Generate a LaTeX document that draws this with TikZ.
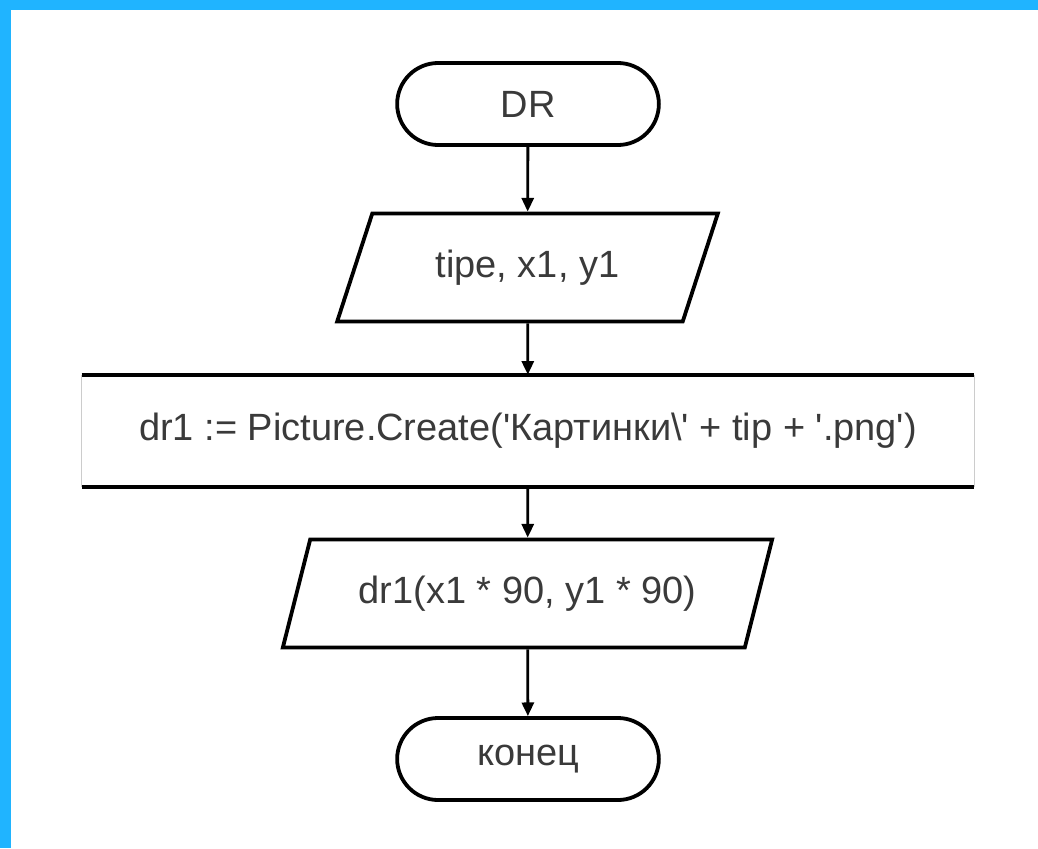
\documentclass[tikz,border=0pt]{standalone}
\usepackage{fontspec}
\setmainfont{Liberation Sans}
\usetikzlibrary{arrows.meta,shapes.geometric,shapes.misc}
\definecolor{frameblue}{RGB}{32,180,255}
\definecolor{txtgray}{RGB}{58,58,58}
\newcommand{\sq}{\textquotesingle}
\tikzset{
  chartfont/.style={text=txtgray,font=\fontsize{27}{32}\selectfont},
  termbox/.style={draw,rounded rectangle,line width=2.7pt,chartfont,
    minimum width=6.775cm,minimum height=2.05cm},
  iobox/.style={draw,trapezium,trapezium left angle=64,trapezium right angle=116,
    trapezium stretches=true,line width=2.7pt,chartfont,minimum height=2.7cm},
  procbox/.style={draw=none,rectangle,chartfont,minimum width=22.3cm,minimum height=2.8cm},
  flow/.style={-{Triangle[length=0.34cm,width=0.3cm]},line width=2pt}
}
\begin{document}
\begin{tikzpicture}[x=0.025cm,y=-0.025cm]
\useasboundingbox (0,0) rectangle (1038,848);
\fill[white] (0,0) rectangle (1038,848);
\fill[frameblue] (0,0) rectangle (1038,10);
\fill[frameblue] (0,0) rectangle (11,848);

\node[termbox] (start) at (528,104) {DR};
\node[iobox,minimum width=9.525cm] (input) at (527.5,267.5) {tipe, x1, y1};
\node[procbox] (create) at (528,431) {dr1 := Picture.Create(\sq Картинки\textbackslash\sq\ + tip + \sq.png\sq)};
\node[iobox,minimum width=12.275cm] (output) at (527.5,593.5) {dr1(x1 * 90, y1 * 90)};
\node[termbox] (stop) at (528,759) {конец};

\draw[line width=2.7pt] (create.north west) -- (create.north east);
\draw[line width=2.7pt] (create.south west) -- (create.south east);
\draw[black!20,line width=0.6pt] (create.north west) -- (create.south west);
\draw[black!20,line width=0.6pt] (create.north east) -- (create.south east);

\draw[flow] (start) -- (input);
\draw[flow] (input) -- (create);
\draw[flow] (create) -- (output);
\draw[flow] (output) -- (stop);
\end{tikzpicture}
\end{document}
